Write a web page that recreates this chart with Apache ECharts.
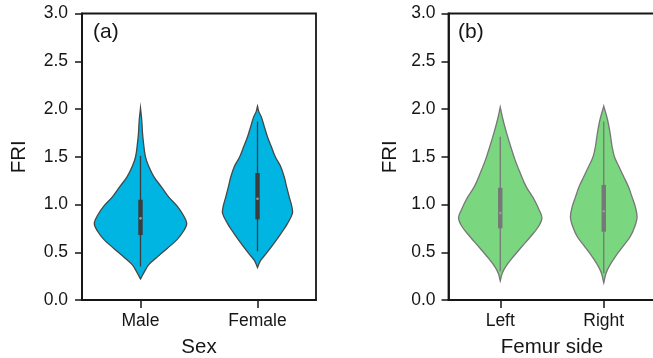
<!DOCTYPE html>
<html>
<head>
<meta charset="utf-8">
<script src="https://cdn.jsdelivr.net/npm/echarts@6/dist/echarts.min.js"></script>
<style>
html,body{margin:0;padding:0;background:#fff;}
#chart{width:653px;height:358px;}
</style>
</head>
<body>
<div id="chart"></div>
<script>
// ---- Data ----
const sexCategories = ['Male', 'Female'];
const sideCategories = ['Left', 'Right'];
const yTicks = [0, 0.5, 1.0, 1.5, 2.0, 2.5, 3.0];

// Violin outlines: FRI levels and half-width (fraction of category band)
const maleLevels   = [2.01, 1.88, 1.75, 1.64, 1.50, 1.40, 1.29, 1.19, 1.08, 0.98, 0.89, 0.80, 0.72, 0.63, 0.54, 0.45, 0.37, 0.30, 0.22];
const maleWidths   = [0, 0.011, 0.017, 0.026, 0.042, 0.07, 0.115, 0.175, 0.24, 0.315, 0.365, 0.395, 0.367, 0.31, 0.228, 0.143, 0.071, 0.035, 0];
const femaleLevels = [2.03, 1.97, 1.92, 1.82, 1.71, 1.61, 1.50, 1.40, 1.29, 1.19, 1.08, 0.98, 0.91, 0.80, 0.70, 0.59, 0.49, 0.42, 0.38, 0.34];
const femaleWidths = [0, 0.012, 0.032, 0.057, 0.085, 0.117, 0.152, 0.197, 0.228, 0.248, 0.271, 0.293, 0.299, 0.256, 0.203, 0.139, 0.077, 0.03, 0.013, 0];
const leftLevels   = [2.02, 1.89, 1.75, 1.61, 1.47, 1.33, 1.19, 1.05, 0.94, 0.86, 0.77, 0.66, 0.56, 0.45, 0.35, 0.28, 0.20];
const leftWidths   = [0, 0.026, 0.061, 0.10, 0.142, 0.193, 0.249, 0.329, 0.377, 0.403, 0.37, 0.29, 0.21, 0.124, 0.053, 0.019, 0];
const rightLevels  = [2.03, 1.89, 1.75, 1.61, 1.50, 1.40, 1.29, 1.19, 1.08, 0.98, 0.87, 0.77, 0.66, 0.56, 0.45, 0.35, 0.28, 0.18];
const rightWidths  = [0, 0.036, 0.061, 0.08, 0.103, 0.145, 0.193, 0.237, 0.273, 0.304, 0.322, 0.30, 0.254, 0.184, 0.109, 0.051, 0.022, 0];

// Inner box: [whiskerLow, q1, median, q3, whiskerHigh]
const maleBox   = [0.35, 0.68, 0.855, 1.05, 1.51];
const femaleBox = [0.51, 0.845, 1.06, 1.33, 1.87];
const leftBox   = [0.30, 0.75, 0.91, 1.175, 1.71];
const rightBox  = [0.28, 0.715, 0.93, 1.205, 1.87];

const blueFill = '#00b5e2';
const greenFill = '#7ad67f';

const violins = [
  { grid: 0, cat: 0, levels: maleLevels, widths: maleWidths, box: maleBox, fill: blueFill, edge: '#474747', inner: '#3c3c3c' },
  { grid: 0, cat: 1, levels: femaleLevels, widths: femaleWidths, box: femaleBox, fill: blueFill, edge: '#474747', inner: '#3c3c3c' },
  { grid: 1, cat: 0, levels: leftLevels, widths: leftWidths, box: leftBox, fill: greenFill, edge: '#777777', inner: '#777777' },
  { grid: 1, cat: 1, levels: rightLevels, widths: rightWidths, box: rightBox, fill: greenFill, edge: '#777777', inner: '#777777' }
];

function makeRender(list) {
  return function (params, api) {
    const v = list[params.dataIndex];
    const band = api.size([1, 0])[0];
    const right = [], left = [];
    for (let i = 0; i < v.levels.length; i++) {
      const p = api.coord([v.cat, v.levels[i]]);
      const dx = v.widths[i] * band;
      right.push([p[0] + dx, p[1]]);
      left.unshift([p[0] - dx, p[1]]);
    }
    const pts = right.concat(left);
    const lo = api.coord([v.cat, v.box[0]]);
    const q1 = api.coord([v.cat, v.box[1]]);
    const med = api.coord([v.cat, v.box[2]]);
    const q3 = api.coord([v.cat, v.box[3]]);
    const hi = api.coord([v.cat, v.box[4]]);
    return {
      type: 'group',
      children: [
        { type: 'polygon', shape: { points: pts, smooth: 0.35 },
          style: { fill: v.fill, stroke: v.edge, lineWidth: 1.3 } },
        { type: 'line', shape: { x1: lo[0], y1: lo[1], x2: hi[0], y2: hi[1] },
          style: { stroke: v.inner, lineWidth: 1.3 } },
        { type: 'rect', shape: { x: q3[0] - 2.2, y: q3[1], width: 4.4, height: q1[1] - q3[1] },
          style: { fill: v.inner } },
        { type: 'circle', shape: { cx: med[0], cy: med[1], r: 1.3 },
          style: { fill: '#9a9a9a' } }
      ]
    };
  };
}

const leftList = violins.filter(v => v.grid === 0);
const rightList = violins.filter(v => v.grid === 1);

const font = 'Liberation Sans, Arial, sans-serif';
const ink = '#161616';

function yAxisDef(gridIndex, nameGap, labelMargin) {
  return {
    type: 'value', gridIndex: gridIndex, min: 0, max: 3, interval: 0.5,
    name: 'FRI', nameLocation: 'middle', nameGap: nameGap, nameRotate: 90,
    nameTextStyle: { fontFamily: font, fontSize: 20.5, color: ink },
    axisLine: { show: true, lineStyle: { color: ink, width: 1.8 } },
    axisTick: { show: true, length: 7, lineStyle: { color: ink, width: 1.5 } },
    axisLabel: { margin: labelMargin, fontFamily: font, fontSize: 17.5, color: ink,
      formatter: function (val) { return yTicks.indexOf(val) >= 0 ? val.toFixed(1) : ''; } },
    splitLine: { show: false }
  };
}

function xAxisDef(gridIndex, cats, name) {
  return {
    type: 'category', gridIndex: gridIndex, data: cats, boundaryGap: true,
    name: name, nameLocation: 'middle', nameGap: 37,
    nameTextStyle: { fontFamily: font, fontSize: 20.5, color: ink },
    axisLine: { show: true, lineStyle: { color: ink, width: 1.8 } },
    axisTick: { show: true, alignWithLabel: true, length: 8, lineStyle: { color: ink, width: 1.5 } },
    axisLabel: { margin: 12, fontFamily: font, fontSize: 17.5, color: ink },
    splitLine: { show: false }
  };
}

const chart = echarts.init(document.getElementById('chart'), null, { renderer: 'canvas' });
chart.setOption({
  animation: false,
  backgroundColor: '#fff',
  grid: [
    { left: 82, top: 13.5, width: 234, height: 286.5, outerBoundsMode: 'none', containLabel: false,
      show: true, borderColor: ink, borderWidth: 1.8, backgroundColor: 'transparent' },
    { left: 448.5, top: 13.5, width: 207, height: 286.5, outerBoundsMode: 'none', containLabel: false,
      show: true, borderColor: ink, borderWidth: 1.8, backgroundColor: 'transparent' }
  ],
  xAxis: [ xAxisDef(0, sexCategories, 'Sex'), xAxisDef(1, sideCategories, 'Femur side') ],
  yAxis: [ yAxisDef(0, 52, 14), yAxisDef(1, 48, 13) ],
  graphic: [
    { type: 'text', left: 93, top: 22, style: { text: '(a)', font: '21px ' + font, fill: ink } },
    { type: 'text', left: 458, top: 22, style: { text: '(b)', font: '21px ' + font, fill: ink } }
  ],
  series: [
    { type: 'custom', xAxisIndex: 0, yAxisIndex: 0, renderItem: makeRender(leftList),
      data: leftList.map(v => [v.cat, v.box[2]]), clip: false },
    { type: 'custom', xAxisIndex: 1, yAxisIndex: 1, renderItem: makeRender(rightList),
      data: rightList.map(v => [v.cat, v.box[2]]), clip: false }
  ]
});
</script>
</body>
</html>
